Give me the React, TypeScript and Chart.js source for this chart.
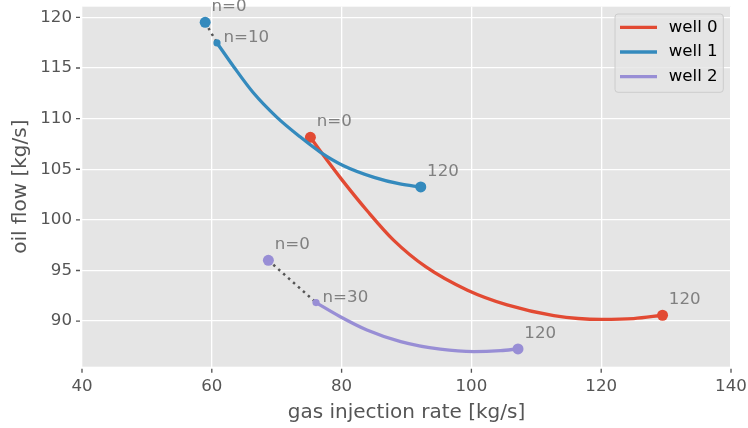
import { useEffect, useRef } from 'react';
import { Chart, registerables } from 'chart.js';

Chart.register(...registerables);

// Wells and their colours
const WELL_NAMES = ['well 0', 'well 1', 'well 2'];
const WELL_COLORS = ['#E24A33', '#348ABD', '#988ED5'];

// Optimisation paths (gas injection rate vs oil flow)
const WELL0_X = [75.19, 77.0, 80.0, 84.0, 88.0, 93.0, 99.4, 105.5, 112.7, 120.0, 125.0, 129.45];
const WELL0_Y = [108.15, 106.55, 104.0, 100.85, 98.0, 95.35, 93.05, 91.6, 90.55, 90.17, 90.25, 90.58];
const WELL1_X = [60.8, 63.4, 66.4, 70.0, 73.6, 76.7, 80.3, 85.0, 89.0, 92.2];
const WELL1_Y = [117.47, 115.1, 112.55, 110.15, 108.2, 106.7, 105.35, 104.2, 103.55, 103.25];
const WELL2_X = [76.06, 79.8, 83.9, 89.1, 95.2, 100.4, 104.5, 107.18];
const WELL2_Y = [91.83, 90.44, 89.13, 87.98, 87.23, 86.99, 87.09, 87.26];

// Marked iterations
const START_N = 0;
const START_X = [75.19, 58.98, 68.72];
const START_Y = [108.15, 119.51, 96.0];
const MID_N: (number | null)[] = [null, 10, 30];
const MID_X: (number | null)[] = [null, 60.8, 76.06];
const MID_Y: (number | null)[] = [null, 117.47, 91.83];
const END_N = 120;
const END_X = [129.45, 92.2, 107.18];
const END_Y = [90.58, 103.25, 87.26];

// Axes
const X_TICKS = [40, 60, 80, 100, 120, 140];
const Y_TICKS = [90, 95, 100, 105, 110, 115, 120];
const X_MIN = 40;
const X_MAX = 140;
const Y_MIN = 85.5;
const Y_MAX = 121.05;
const X_TITLE = 'gas injection rate [kg/s]';
const Y_TITLE = 'oil flow [kg/s]';

const FONT = 'DejaVu Sans';
const SMALL = 16.67;
const LARGE = 20;
const AXIS_GREY = '#555555';
const PLOT_BG = '#E5E5E5';

const zip = (xs: number[], ys: number[]) => xs.map((x, i) => ({ x, y: ys[i] }));

const CURVES = [zip(WELL0_X, WELL0_Y), zip(WELL1_X, WELL1_Y), zip(WELL2_X, WELL2_Y)];

const plotBackground = {
  id: 'plotBackground',
  beforeDraw(chart: any) {
    const { ctx, chartArea: a } = chart;
    ctx.save();
    ctx.fillStyle = PLOT_BG;
    ctx.fillRect(a.left, a.top, a.right - a.left, a.bottom - a.top);
    ctx.restore();
  },
};

const decorations = {
  id: 'decorations',
  afterDraw(chart: any) {
    const { ctx, chartArea: a, scales } = chart;
    const xs = scales.x;
    const ys = scales.y;
    ctx.save();

    // tick marks, set slightly off the plot edge
    ctx.strokeStyle = AXIS_GREY;
    ctx.lineWidth = 1.33;
    ctx.beginPath();
    X_TICKS.forEach((v) => {
      const px = xs.getPixelForValue(v);
      ctx.moveTo(px, a.bottom + 2);
      ctx.lineTo(px, a.bottom + 6);
    });
    Y_TICKS.forEach((v) => {
      const py = ys.getPixelForValue(v);
      ctx.moveTo(a.left - 6, py);
      ctx.lineTo(a.left - 2, py);
    });
    ctx.stroke();

    // axis titles
    ctx.fillStyle = AXIS_GREY;
    ctx.font = `${LARGE}px "${FONT}"`;
    ctx.textAlign = 'center';
    ctx.textBaseline = 'middle';
    ctx.fillText(X_TITLE, (a.left + a.right) / 2, 413);
    ctx.save();
    ctx.translate(20.5, (a.top + a.bottom) / 2);
    ctx.rotate(-Math.PI / 2);
    ctx.fillText(Y_TITLE, 0, 0);
    ctx.restore();

    // iteration labels
    ctx.fillStyle = '#808080';
    ctx.font = `${SMALL}px "${FONT}"`;
    ctx.textAlign = 'left';
    ctx.textBaseline = 'middle';
    const label = (x: number, y: number, text: string, dx: number, dy: number) => {
      ctx.fillText(text, xs.getPixelForValue(x) + dx, ys.getPixelForValue(y) + dy);
    };
    WELL_NAMES.forEach((_, i) => {
      label(START_X[i], START_Y[i], `n=${START_N}`, 6.3, -15.3);
      const mn = MID_N[i];
      const mx = MID_X[i];
      const my = MID_Y[i];
      if (mn !== null && mx !== null && my !== null) label(mx, my, `n=${mn}`, 6.5, -5.3);
      label(END_X[i], END_Y[i], `${END_N}`, 6.3, -15.3);
    });

    // legend box in the upper right corner of the plot
    const boxW = 108.3;
    const boxH = 78.3;
    const boxR = a.right - 7.7;
    const boxT = a.top + 7.3;
    const boxL = boxR - boxW;
    ctx.beginPath();
    ctx.roundRect(boxL, boxT, boxW, boxH, 3);
    ctx.fillStyle = 'rgba(229,229,229,0.8)';
    ctx.fill();
    ctx.strokeStyle = '#CCCCCC';
    ctx.lineWidth = 1;
    ctx.stroke();
    WELL_NAMES.forEach((name, i) => {
      const y = boxT + 13.3 + i * 24.7;
      ctx.beginPath();
      ctx.strokeStyle = WELL_COLORS[i];
      ctx.lineWidth = 3.3;
      ctx.moveTo(boxL + 5, y);
      ctx.lineTo(boxL + 42, y);
      ctx.stroke();
      ctx.fillStyle = '#000000';
      ctx.fillText(name, boxL + 53.7, y);
    });

    ctx.restore();
  },
};

// fixed scale boxes, with no extra room for overhanging labels
const fixSize = (prop: 'width' | 'height', size: number) => (s: any) => {
  s[prop] = size;
  s.paddingTop = 0;
  s.paddingBottom = 0;
  s.paddingLeft = 0;
  s.paddingRight = 0;
};

export default function App() {
  const canvasRef = useRef<HTMLCanvasElement | null>(null);

  useEffect(() => {
    const canvas = canvasRef.current;
    if (!canvas) return;

    const datasets: any[] = [];
    let order = 1000;
    WELL_NAMES.forEach((name, i) => {
      const color = WELL_COLORS[i];
      const mx = MID_X[i];
      const my = MID_Y[i];
      if (mx !== null && my !== null) {
        // first iterations shown as a dotted connector
        datasets.push({
          label: `${name} start`,
          data: [{ x: START_X[i], y: START_Y[i] }, { x: mx, y: my }],
          showLine: true,
          borderColor: AXIS_GREY,
          borderWidth: 2.5,
          borderDash: [2.5, 4.1],
          borderCapStyle: 'butt',
          pointRadius: 0,
          order: order--,
        });
      }
      datasets.push({
        label: name,
        data: CURVES[i],
        showLine: true,
        borderColor: color,
        borderWidth: 3.3,
        cubicInterpolationMode: 'monotone',
        pointRadius: 0,
        order: order--,
      });
      const markers = [{ x: START_X[i], y: START_Y[i] }, { x: END_X[i], y: END_Y[i] }];
      datasets.push({
        label: `${name} markers`,
        data: markers,
        showLine: false,
        pointRadius: 5.5,
        pointBorderWidth: 0,
        pointBackgroundColor: color,
        order: order--,
      });
      if (mx !== null && my !== null) {
        datasets.push({
          label: `${name} n=${MID_N[i]}`,
          data: [{ x: mx, y: my }],
          showLine: false,
          pointRadius: 3.6,
          pointBorderWidth: 0,
          pointBackgroundColor: color,
          order: order--,
        });
      }
    });

    const tickFont = { family: FONT, size: SMALL };

    const chart = new Chart(canvas, {
      type: 'scatter',
      data: { datasets },
      options: {
        animation: false,
        responsive: false,
        devicePixelRatio: 1,
        events: [],
        layout: { padding: { top: 6.7, right: 17, bottom: 0, left: 0 } },
        plugins: {
          legend: { display: false },
          tooltip: { enabled: false },
        },
        scales: {
          x: {
            type: 'linear',
            min: X_MIN,
            max: X_MAX,
            afterBuildTicks: (s: any) => {
              s.ticks = X_TICKS.map((value) => ({ value }));
            },
            afterFit: fixSize('height', 61.3),
            grid: { color: '#FFFFFF', lineWidth: 1.33, drawTicks: false },
            border: { display: false },
            ticks: { color: AXIS_GREY, font: tickFont, padding: 10, maxRotation: 0 },
          },
          y: {
            type: 'linear',
            min: Y_MIN,
            max: Y_MAX,
            afterBuildTicks: (s: any) => {
              s.ticks = Y_TICKS.map((value) => ({ value }));
            },
            afterFit: fixSize('width', 82),
            grid: { color: '#FFFFFF', lineWidth: 1.33, drawTicks: false },
            border: { display: false },
            ticks: { color: AXIS_GREY, font: tickFont, padding: 10 },
          },
        },
      } as any,
      plugins: [plotBackground, decorations],
    });

    return () => chart.destroy();
  }, []);

  return (
    <div style={{ position: 'absolute', left: 0, top: 0, width: 748, height: 428, background: '#FFFFFF' }}>
      <canvas ref={canvasRef} width={748} height={428} style={{ width: 748, height: 428, display: 'block' }} />
    </div>
  );
}
